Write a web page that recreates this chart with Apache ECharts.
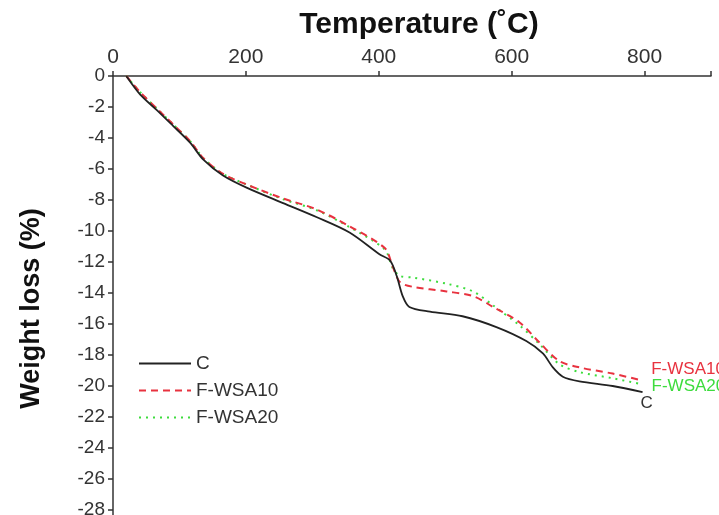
<!DOCTYPE html>
<html>
<head>
<meta charset="utf-8">
<script src="https://cdn.jsdelivr.net/npm/echarts@6/dist/echarts.min.js"></script>
<style>
  html, body { margin: 0; padding: 0; background: #fff; }
  #chart { width: 719px; height: 515px; }
</style>
</head>
<body>
<div id="chart"></div>
<script>
// values
let tempC = [20, 41, 66, 90, 116, 136, 165, 201, 256, 306, 356, 401, 417, 427, 436, 446, 477, 526, 577, 622, 647, 662, 677, 702, 752, 797]
let lossC = [0, -1.2, -2.2, -3.2, -4.3, -5.4, -6.4, -7.2, -8.2, -9.1, -10.1, -11.5, -11.9, -12.9, -14.2, -14.9, -15.2, -15.5, -16.2, -17.1, -17.9, -18.8, -19.4, -19.7, -20.0, -20.4]

let tempW10 = [20, 40, 66, 90, 116, 136, 165, 201, 256, 306, 356, 409, 421, 432, 451, 502, 542, 572, 612, 642, 672, 702, 752, 792]
let lossW10 = [0, -1.0, -2.1, -3.1, -4.2, -5.3, -6.3, -7.0, -7.9, -8.6, -9.7, -11.1, -12.3, -13.3, -13.6, -13.9, -14.2, -14.9, -15.9, -17.2, -18.4, -18.8, -19.2, -19.6]

let tempW20 = [20, 40, 66, 90, 116, 136, 165, 201, 256, 306, 356, 409, 421, 432, 451, 502, 542, 572, 612, 642, 672, 702, 752, 797]
let lossW20 = [0, -1.0, -2.1, -3.1, -4.2, -5.3, -6.3, -7.0, -7.95, -8.65, -9.75, -11.2, -12.4, -12.9, -13.0, -13.4, -13.9, -14.8, -16.1, -17.3, -18.6, -19.1, -19.5, -19.9]

let xTicks = [0, 200, 400, 600, 800]

function pairs(xs, ys) {
  let out = []
  for (let i = 0; i < xs.length; i++) out.push([xs[i], ys[i]])
  return out
}

let chart = echarts.init(document.getElementById('chart'))
const font = 'Liberation Sans, Arial, sans-serif'

let option = {
  backgroundColor: '#fff',
  animation: false,
  grid: { left: 113, right: 8, top: 76, bottom: -26, outerBoundsMode: 'none', containLabel: false },
  legend: {
    orient: 'vertical',
    left: 133,
    top: 349,
    itemWidth: 52,
    itemHeight: 10,
    itemGap: 8,
    itemStyle: { opacity: 0 },
    textStyle: { fontFamily: font, fontSize: 19, color: '#333' },
    data: ['C', 'F-WSA10', 'F-WSA20']
  },
  xAxis: {
    type: 'value',
    position: 'top',
    min: 0,
    max: 900,
    interval: 200,
    name: 'Temperature (˚C)',
    nameLocation: 'middle',
    nameGap: 36,
    nameTextStyle: { fontFamily: font, fontSize: 30, fontWeight: 'bold', color: '#111', padding: [0, 0, 0, 14] },
    axisLine: { lineStyle: { color: '#333', width: 1.5 } },
    axisTick: { length: 5, lineStyle: { color: '#333', width: 1.5 } },
    axisLabel: {
      fontFamily: font, fontSize: 21, color: '#333', margin: 8,
      formatter: function (v) { return xTicks.indexOf(v) >= 0 ? String(v) : '' }
    },
    splitLine: { show: false }
  },
  yAxis: {
    type: 'value',
    min: -30,
    max: 0,
    interval: 2,
    name: 'Weight loss (%)',
    nameLocation: 'middle',
    nameGap: 68,
    nameTextStyle: { fontFamily: font, fontSize: 27, fontWeight: 'bold', color: '#111' },
    axisLine: { show: true, lineStyle: { color: '#333', width: 1.5 } },
    axisTick: { show: true, length: 5, lineStyle: { color: '#333', width: 1.5 } },
    axisLabel: { fontFamily: font, fontSize: 19, color: '#333', margin: 8 },
    splitLine: { show: false }
  },
  series: [
    {
      name: 'C', type: 'line', smooth: 0.3, symbol: 'none',
      data: pairs(tempC, lossC),
      lineStyle: { color: '#222', width: 1.8, type: 'solid' },
      itemStyle: { color: '#222' },
      endLabel: { show: true, formatter: 'C', color: '#333', fontFamily: font, fontSize: 17, offset: [-10, 11] },
      z: 3
    },
    {
      name: 'F-WSA10', type: 'line', smooth: 0.3, symbol: 'none',
      data: pairs(tempW10, lossW10),
      lineStyle: { color: '#e8323f', width: 2, type: [7, 5] },
      itemStyle: { color: '#e8323f' },
      endLabel: { show: true, formatter: 'F-WSA10', color: '#e8323f', fontFamily: font, fontSize: 17, offset: [4, -10] },
      z: 2
    },
    {
      name: 'F-WSA20', type: 'line', smooth: 0.3, symbol: 'none',
      data: pairs(tempW20, lossW20),
      lineStyle: { color: '#3ddc3d', width: 2, type: [2, 5] },
      itemStyle: { color: '#3ddc3d' },
      endLabel: { show: true, formatter: 'F-WSA20', color: '#3ddc3d', fontFamily: font, fontSize: 17, offset: [1, 2] },
      z: 1
    }
  ]
}
chart.setOption(option)
</script>
</body>
</html>
